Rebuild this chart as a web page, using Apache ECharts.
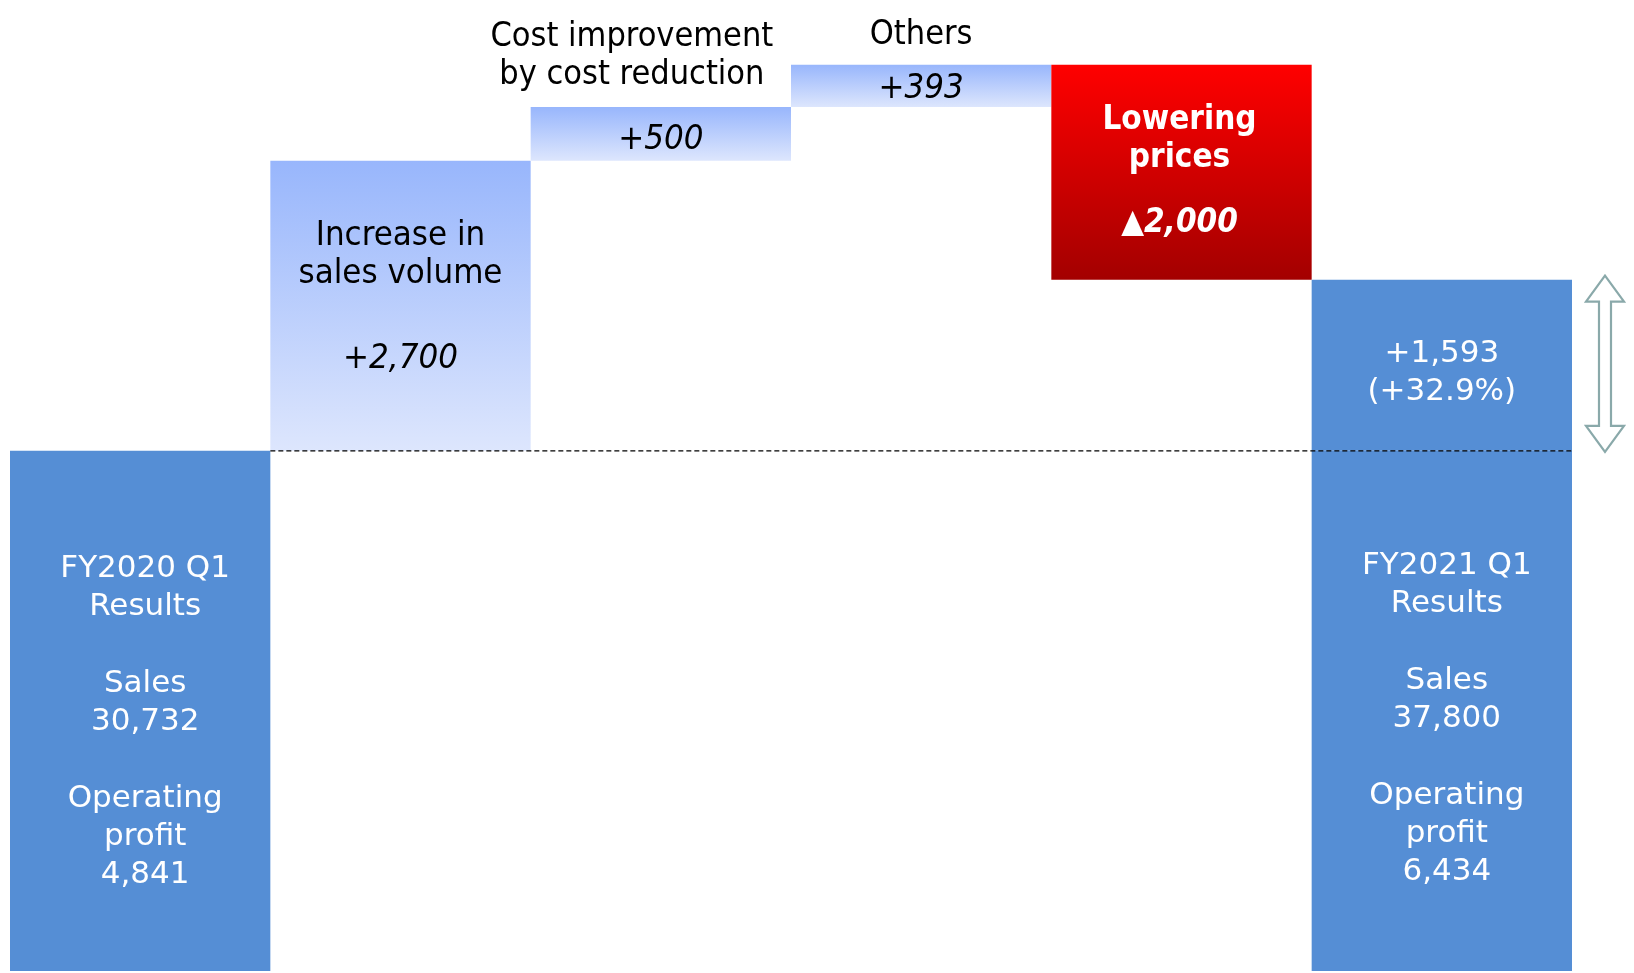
<!DOCTYPE html>
<html>
<head>
<meta charset="utf-8">
<title>Operating profit bridge</title>
<script src="https://cdn.jsdelivr.net/npm/echarts@6/dist/echarts.min.js"></script>
<style>
  html, body { margin: 0; padding: 0; background: #fff; }
  #chart { width: 1634px; height: 973px; }
</style>
</head>
<body>
<div id="chart"></div>
<script>
// --- data ---
const categories = [
  "FY2020 Q1 Results",
  "Increase in sales volume",
  "Cost improvement by cost reduction",
  "Others",
  "Lowering prices",
  "FY2021 Q1 Results",
];
const periods = ["FY2020 Q1", "FY2021 Q1"];
const salesValues = [30732, 37800];
const profitValues = [4841, 6434];
const changeValues = [2700, 500, 393, -2000];
const changeTexts = ["+2,700", "+500", "+393", "▲2,000"];
const growthText = "(+32.9%)";

const WHITE_FONT = "'DejaVu Sans', Verdana, sans-serif";
const DARK_FONT = "'DejaVu Sans Condensed', 'Liberation Sans Narrow', 'DejaVu Sans', sans-serif";
const BLUE = "#558ed5";

const fmt = (v) => v.toLocaleString("en-US");

// build waterfall stacks
const startProfit = profitValues[0];
const endProfit = profitValues[1];
const resultsData = [startProfit, 0, 0, 0, 0, startProfit];
const baseData = [0];
const deltaData = [0];
let running = startProfit;
changeValues.forEach((c) => {
  if (c >= 0) {
    baseData.push(running);
    deltaData.push(c);
    running += c;
  } else {
    running += c;
    baseData.push(running);
    deltaData.push(-c);
  }
});
// top slice of the FY2021 bar sits on the FY2020 level
baseData.push(0);
deltaData.push(endProfit - startProfit);

const upGradient = {
  type: "linear", x: 0, y: 0, x2: 0, y2: 1,
  colorStops: [
    { offset: 0, color: "#98b6fc" },
    { offset: 1, color: "#dde6fd" },
  ],
};
const downGradient = {
  type: "linear", x: 0, y: 0, x2: 0, y2: 1,
  colorStops: [
    { offset: 0, color: "#ff0000" },
    { offset: 1, color: "#a30000" },
  ],
};

const whiteLabel = {
  show: true,
  position: "inside",
  color: "#fff",
  fontFamily: WHITE_FONT,
  fontSize: 31,
  lineHeight: 38.3,
};
const darkToken = { color: "#000", fontFamily: DARK_FONT, fontSize: 34.5, lineHeight: 38 };

function resultText(i) {
  return `${periods[i]}\nResults\n\nSales\n${fmt(salesValues[i])}\n\nOperating\nprofit\n${fmt(profitValues[i])}`;
}

const resultsSeries = resultsData.map((v, i) => {
  if (!v) return { value: 0, label: { show: false } };
  const k = i === 0 ? 0 : 1;
  return {
    value: v,
    label: { ...whiteLabel, formatter: resultText(k), offset: k === 0 ? [5, 11] : [5, 8] },
  };
});

const deltaItems = deltaData.map((v, i) => {
  if (i === 0) return { value: 0, label: { show: false } };
  if (i === 1) {
    return {
      value: v,
      itemStyle: { color: upGradient },
      label: {
        show: true,
        position: "inside",
        offset: [0, -8],
        formatter: `{a|Increase in}\n{a|sales volume}\n{g| }\n{b|${changeTexts[0]}}`,
        rich: {
          a: { ...darkToken },
          g: { lineHeight: 47, fontSize: 12 },
          b: { ...darkToken, fontStyle: "italic" },
        },
      },
    };
  }
  if (i === 2 || i === 3) {
    return {
      value: v,
      itemStyle: { color: upGradient },
      label: {
        show: true,
        position: "inside",
        offset: i === 2 ? [0, 6] : [0, 3],
        formatter: changeTexts[i - 1],
        ...darkToken,
        fontStyle: "italic",
      },
    };
  }
  if (i === 4) {
    const wb = { color: "#fff", fontFamily: DARK_FONT, fontSize: 33, lineHeight: 38, fontWeight: "bold" };
    return {
      value: v,
      itemStyle: { color: downGradient },
      label: {
        show: true,
        position: "inside",
        offset: [-2, 0],
        formatter: `{a|Lowering}\n{a|prices}\n{g| }\n{b|${changeTexts[3]}}`,
        rich: {
          a: { ...wb },
          g: { lineHeight: 27, fontSize: 12 },
          b: { ...wb, fontStyle: "italic" },
        },
      },
    };
  }
  return {
    value: v,
    itemStyle: { color: BLUE },
    label: { ...whiteLabel, lineHeight: 38, formatter: `+${fmt(v)}\n${growthText}`, offset: [0, 8] },
  };
});

// captions above the small bars
const captionLabel = {
  show: true,
  position: "top",
  color: "#000",
  opacity: 1,
  fontFamily: DARK_FONT,
  fontSize: 34,
  lineHeight: 38,
};
const captionData = [
  {
    value: [2, baseData[2] + deltaData[2]],
    label: { ...captionLabel, formatter: "Cost improvement\nby cost reduction", distance: 13, offset: [-29, 0] },
  },
  {
    value: [3, baseData[3] + deltaData[3]],
    label: { ...captionLabel, formatter: "Others", distance: 11 },
  },
];

const chart = echarts.init(document.getElementById("chart"));

const option = {
  animation: false,
  backgroundColor: "#fff",
  grid: { left: 10, right: 62, top: 4, bottom: 2 },
  xAxis: [
    { type: "category", data: categories, show: false },
    { type: "value", min: 0, max: categories.length, show: false },
  ],
  yAxis: { type: "value", min: 0, max: 9000, show: false, splitLine: { show: false } },
  series: [
    {
      name: "results",
      type: "bar",
      stack: "w",
      barCategoryGap: "0%",
      itemStyle: { color: BLUE },
      data: resultsSeries,
    },
    {
      name: "base",
      type: "bar",
      stack: "w",
      barCategoryGap: "0%",
      itemStyle: { color: "transparent" },
      data: baseData,
    },
    {
      name: "change",
      type: "bar",
      stack: "w",
      barCategoryGap: "0%",
      data: deltaItems,
    },
    {
      name: "captions",
      type: "scatter",
      symbolSize: 0,
      itemStyle: { opacity: 1 },
      label: captionLabel,
      data: captionData,
    },
    {
      name: "previous level",
      type: "line",
      xAxisIndex: 1,
      symbol: "none",
      lineStyle: { color: "#000", width: 1.4, type: [5, 3] },
      data: [[1, startProfit], [categories.length, startProfit]],
    },
    {
      name: "arrow",
      type: "custom",
      clip: false,
      data: [[5, startProfit, endProfit]],
      renderItem(params, api) {
        const top = api.coord([api.value(0), api.value(2)]);
        const bot = api.coord([api.value(0), api.value(1)]);
        const band = api.size([1, 0])[0];
        const cx = top[0] + band / 2 + 33;
        const y0 = top[1] - 4;
        const y1 = bot[1] + 1;
        const hw = 19, sw = 6, hh = 26;
        return {
          type: "polygon",
          shape: {
            points: [
              [cx, y0], [cx + hw, y0 + hh], [cx + sw, y0 + hh],
              [cx + sw, y1 - hh], [cx + hw, y1 - hh], [cx, y1],
              [cx - hw, y1 - hh], [cx - sw, y1 - hh], [cx - sw, y0 + hh],
              [cx - hw, y0 + hh],
            ],
          },
          style: { fill: "#fff", stroke: "#8aa9aa", lineWidth: 2.2 },
        };
      },
    },
  ],
};

chart.setOption(option);
</script>
</body>
</html>
